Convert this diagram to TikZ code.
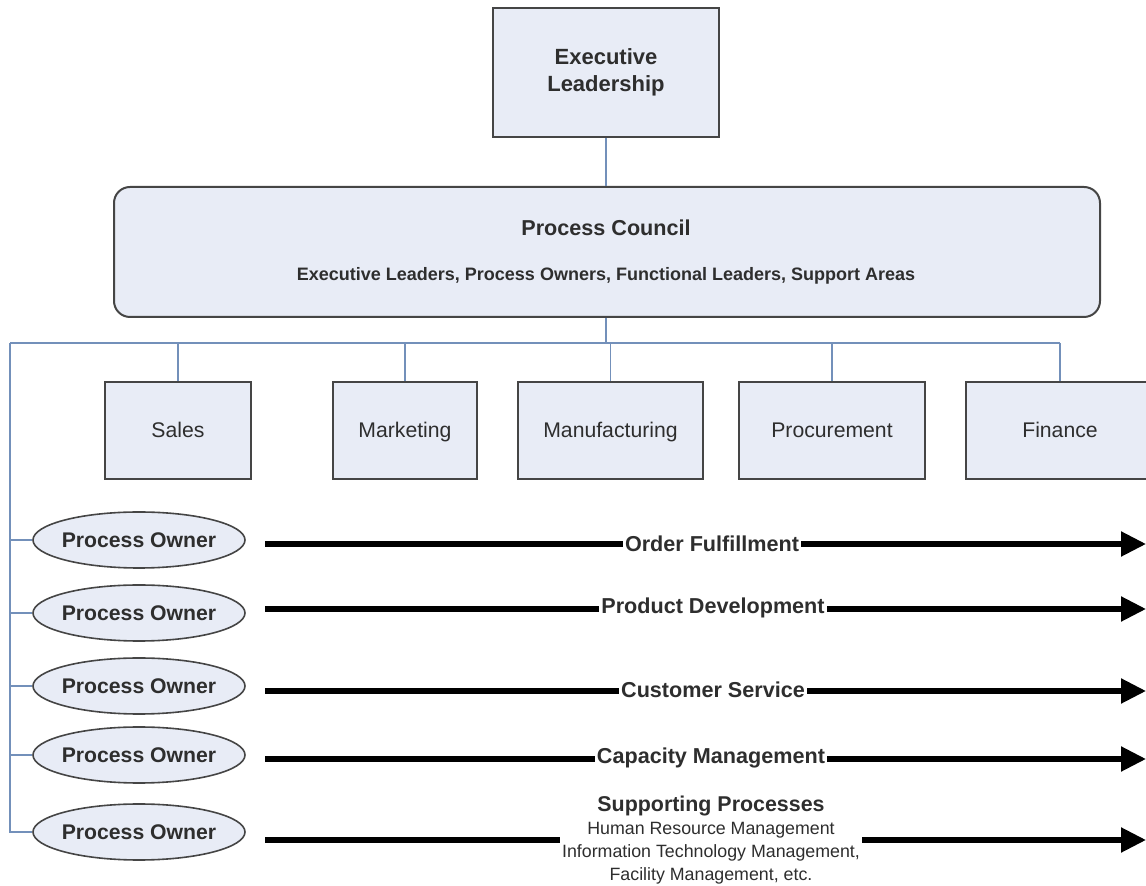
\documentclass[tikz,border=0pt]{standalone}
\usepackage{fontspec}
\setmainfont{Liberation Sans}
\usepackage{tikz}
\usetikzlibrary{arrows.meta, positioning, shapes.geometric}

\definecolor{boxfill}{HTML}{E8ECF6}
\definecolor{boxline}{HTML}{454545}
\definecolor{linkcol}{HTML}{7390BA}
\definecolor{txt}{HTML}{2E2E2E}

\begin{document}
\begin{tikzpicture}[x=0.5pt, y=-0.5pt,
    box/.style={draw=boxline, fill=boxfill, line width=1pt, text=txt, align=center, inner sep=0pt},
    owner/.style={ellipse, draw=boxline, fill=boxfill, line width=0.8pt, text=txt, inner xsep=-2pt, inner ysep=0pt,
        minimum width=106pt, minimum height=28pt, font=\fontsize{10.6}{12}\selectfont\bfseries},
    func/.style={box, minimum height=48.5pt, text height=1.5ex, text depth=.3ex, font=\fontsize{10.6}{12}\selectfont},
    link/.style={draw=linkcol, line width=0.8pt},
    flow/.style={line width=2.6pt, -{Triangle[length=12.5pt, width=12pt]}},
    flowlabel/.style={fill=white, inner xsep=1pt, inner ysep=1pt, text=txt, font=\fontsize{10.8}{12}\selectfont\bfseries}]
    \useasboundingbox (0,0) rectangle (1146,886);

    % Liderazgo y consejo
    \node[box, minimum width=113pt, minimum height=64.5pt, font=\fontsize{11}{13.5}\selectfont\bfseries]
        (exec) at (606,72.5) {Executive\\Leadership};
    \node[box, rounded corners=8pt, minimum width=493pt, minimum height=65pt] (council) at (607,252) {};
    \node[text=txt, font=\fontsize{10.8}{12}\selectfont\bfseries] (ctitle) at (606,228) {Process Council};
    \node[text=txt, font=\fontsize{9}{10}\selectfont\bfseries] (csub) at (606,276)
        {Executive Leaders, Process Owners, Functional Leaders, Support Areas};
    \draw[link] (exec.south) -- (council.north -| exec.south);

    % Areas funcionales
    \node[func, minimum width=73pt] (sales) at (178,431) {Sales};
    \node[func, minimum width=72pt] (mkt) at (405,431) {Marketing};
    \node[func, minimum width=92.5pt] (mfg) at (610.5,431) {Manufacturing};
    \node[func, minimum width=93pt] (proc) at (832,431) {Procurement};
    \node[func, minimum width=94pt] (fin) at (1060,431) {Finance};

    % Duenos de proceso
    \node[owner] (po1) at (139,540) {Process Owner};
    \node[owner] (po2) at (139,613) {Process Owner};
    \node[owner] (po3) at (139,686) {Process Owner};
    \node[owner] (po4) at (139,755) {Process Owner};
    \node[owner] (po5) at (139,832) {Process Owner};

    % Conectores
    \coordinate (bus) at (10,343);
    \draw[link] (council.south -| exec.south) -- (bus -| exec.south);
    \draw[link] (bus) -- (bus -| fin.north);
    \foreach \f in {sales,mkt,mfg,proc,fin}
        \draw[link] (bus -| \f.north) -- (\f.north);
    \draw[link] (bus) |- (po5.west);
    \foreach \i in {1,...,4}
        \draw[link] (bus |- po\i.west) -- (po\i.west);

    % Procesos
    \coordinate (s1) at (265,544); \coordinate (e1) at (1146,544);
    \coordinate (s2) at (265,609); \coordinate (e2) at (1146,609);
    \coordinate (s3) at (265,691); \coordinate (e3) at (1146,691);
    \coordinate (s4) at (265,759); \coordinate (e4) at (1146,759);
    \coordinate (s5) at (265,840); \coordinate (e5) at (1146,840);
    \foreach \i in {1,...,5}
        \draw[flow] (s\i) -- (e\i);
    \node[flowlabel] (of) at (712,544) {Order Fulfillment};
    \node[flowlabel] (pd) at (713,608) {Product Development};
    \node[flowlabel] (cs) at (713,690) {Customer Service};
    \node[flowlabel] (cm) at (711,758) {Capacity Management};
    \node[fill=white, inner sep=1pt, text=txt, align=center, font=\fontsize{8.9}{11.5}\selectfont] (sp) at (711,840)
        {{\fontsize{10.7}{12}\selectfont\bfseries Supporting Processes}\\Human Resource Management\\
         Information Technology Management,\\Facility Management, etc.};
\end{tikzpicture}
\end{document}
